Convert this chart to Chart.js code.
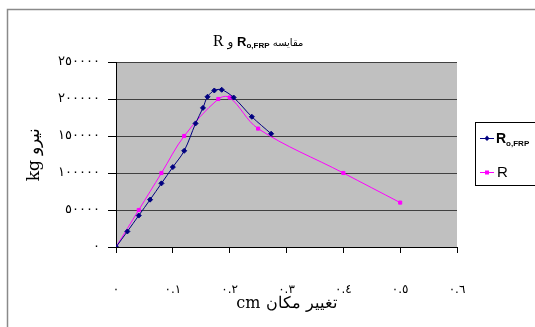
<!DOCTYPE html>
<html>
<head>
<meta charset="utf-8">
<script src="https://cdn.jsdelivr.net/npm/chart.js@4"></script>
<style>
  html, body { margin: 0; padding: 0; background: #fff; }
  #wrap { width: 535px; height: 327px; }
</style>
</head>
<body>
<div id="wrap"><canvas id="chart" width="535" height="327"></canvas></div>
<script>
// R0,FRP series (blue)
const frpX = [0, 0.02, 0.04, 0.06, 0.08, 0.10, 0.12, 0.14, 0.153, 0.161, 0.173, 0.186, 0.207, 0.239, 0.273];
const frpY = [0, 21000, 42500, 64000, 86000, 108000, 130000, 167000, 188000, 203000, 211500, 212500, 202000, 176000, 153000];
// R series (pink)
const rX = [0, 0.04, 0.08, 0.12, 0.18, 0.2, 0.25, 0.4, 0.5];
const rY = [0, 50000, 100000, 150000, 200000, 202000, 160000, 100000, 60000];

const xTickLabels = ['٠', '٠.١', '٠.٢', '٠.٣', '٠.٤', '٠.٥', '٠.٦'];
const yTickLabels = ['٠', '٥٠٠٠٠', '١٠٠٠٠٠', '١٥٠٠٠٠', '٢٠٠٠٠٠', '٢٥٠٠٠٠'];

function puntos(xs, ys) {
    return xs.map(function (x, i) { return { x: x, y: ys[i] }; });
}

// fondo gris, marco y titulo / leyenda a mano
const extras = {
    id: 'extras',
    beforeDraw(chart) {
        const ctx = chart.ctx;
        const a = chart.chartArea;
        ctx.save();
        ctx.fillStyle = '#fff';
        ctx.fillRect(0, 0, chart.width, chart.height);
        ctx.fillStyle = '#c0c0c0';
        ctx.fillRect(a.left, a.top, a.right - a.left, a.bottom - a.top);
        // marco exterior
        ctx.strokeStyle = '#8a8a8a';
        ctx.lineWidth = 1.5;
        ctx.beginPath();
        ctx.moveTo(7.5, chart.height + 2);
        ctx.lineTo(7.5, 9.5);
        ctx.lineTo(chart.width + 2, 9.5);
        ctx.stroke();
        ctx.restore();
    },
    afterDraw(chart) {
        const ctx = chart.ctx;
        ctx.save();
        ctx.fillStyle = '#000';
        ctx.textBaseline = 'alphabetic';
        ctx.textAlign = 'left';
        // titulo: R و R o,FRP مقایسه
        let x = 213;
        const yb = 46;
        const partes = [
            { t: 'R', f: '16px "Liberation Serif"', dy: 0 },
            { t: ' و ', f: '12px "DejaVu Sans"', dy: 0 },
            { t: 'R', f: 'bold 13px "Liberation Sans"', dy: 0 },
            { t: 'o,FRP', f: 'bold 8px "Liberation Sans"', dy: 2 },
            { t: ' مقایسه', f: '10px "DejaVu Sans"', dy: 0 }
        ];
        partes.forEach(function (p) {
            ctx.font = p.f;
            ctx.fillText(p.t, x, yb + p.dy);
            x += ctx.measureText(p.t).width;
        });

        // leyenda
        ctx.strokeStyle = '#000';
        ctx.lineWidth = 1;
        ctx.strokeRect(475.5, 122.5, 70, 63);
        const sets = chart.data.datasets;
        const filas = [138, 172];
        sets.forEach(function (ds, i) {
            const yy = filas[i];
            ctx.strokeStyle = ds.borderColor;
            ctx.lineWidth = 1;
            ctx.beginPath();
            ctx.moveTo(480, yy + 0.5);
            ctx.lineTo(494, yy + 0.5);
            ctx.stroke();
            ctx.fillStyle = ds.pointBackgroundColor;
            if (i === 0) {
                ctx.beginPath();
                ctx.moveTo(487, yy - 2.5);
                ctx.lineTo(489.5, yy + 0.5);
                ctx.lineTo(487, yy + 3);
                ctx.lineTo(484.5, yy + 0.5);
                ctx.closePath();
                ctx.fill();
            } else {
                ctx.fillRect(485, yy - 1.5, 4, 4);
            }
        });
        ctx.fillStyle = '#000';
        ctx.font = 'bold 14px "Liberation Sans"';
        ctx.fillText('R', 496, 143);
        let w = ctx.measureText('R').width;
        ctx.font = 'bold 8px "Liberation Sans"';
        ctx.fillText('o,FRP', 496 + w, 146);
        ctx.font = '15px "Liberation Sans"';
        ctx.fillText('R', 497, 177);
        ctx.restore();
    }
};

const ctx = document.getElementById('chart');

new Chart(ctx, {
    type: 'line',
    data: {
        datasets: [
            {
                label: 'Ro,FRP',
                data: puntos(frpX, frpY),
                borderColor: '#000080',
                backgroundColor: '#000080',
                pointBackgroundColor: '#000080',
                pointBorderColor: '#000080',
                pointStyle: 'rectRot',
                pointRadius: 2.5,
                borderWidth: 1,
                tension: 0.35,
                fill: false
            },
            {
                label: 'R',
                data: puntos(rX, rY),
                borderColor: '#ff00ff',
                backgroundColor: '#ff00ff',
                pointBackgroundColor: '#ff00ff',
                pointBorderColor: '#ff00ff',
                pointStyle: 'rect',
                pointRadius: 2.2,
                borderWidth: 1,
                tension: 0.35,
                fill: false
            }
        ]
    },
    options: {
        responsive: false,
        animation: false,
        layout: { padding: { left: 0, top: 62, right: 78, bottom: 0 } },
        plugins: {
            legend: { display: false },
            title: { display: false },
            tooltip: { enabled: false }
        },
        scales: {
            x: {
                type: 'linear',
                min: 0,
                max: 0.6,
                afterFit: function (s) { s.height = 80; },
                ticks: {
                    stepSize: 0.1,
                    color: '#000',
                    font: { family: 'DejaVu Sans', size: 12 },
                    padding: 30,
                    maxRotation: 0,
                    callback: function (v, i) { return xTickLabels[i]; }
                },
                grid: { drawOnChartArea: false, drawTicks: true, tickLength: 6, tickColor: '#000' },
                border: { display: true, color: '#000' },
                title: {
                    display: true,
                    text: 'cm تغییر مکان',
                    color: '#000',
                    font: { family: 'DejaVu Serif', size: 16 },
                    padding: { top: 0, bottom: 14 }
                }
            },
            y: {
                min: 0,
                max: 250000,
                afterFit: function (s) { s.width = 116; },
                ticks: {
                    stepSize: 50000,
                    color: '#000',
                    font: { family: 'DejaVu Sans', size: 13 },
                    padding: 8,
                    callback: function (v, i) { return yTickLabels[i]; }
                },
                grid: { color: '#404040', lineWidth: 1, tickLength: 8, tickColor: '#000' },
                border: { display: true, color: '#000' },
                title: {
                    display: true,
                    text: 'kg نیرو',
                    color: '#000',
                    font: { family: 'DejaVu Serif', size: 17 },
                    padding: { top: 24, bottom: 0 }
                }
            }
        }
    },
    plugins: [extras]
});
</script>
</body>
</html>
